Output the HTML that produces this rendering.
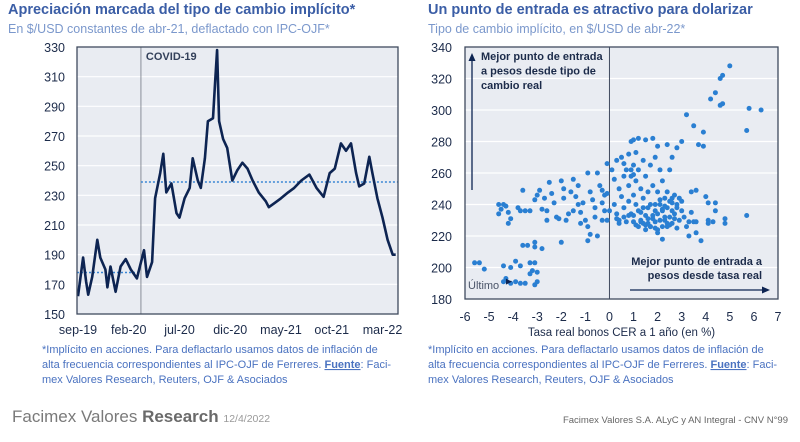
<!DOCTYPE html>
<html><head><meta charset="utf-8">
<style>
body{margin:0;background:#fff;}
svg{display:block;font-family:"Liberation Sans",sans-serif;}
.tick{font-size:12.5px;fill:#1c2b4a;}
.ft{font-size:11px;fill:#4a72c0;}
</style></head>
<body>
<svg id="root" width="800" height="442" viewBox="0 0 800 442">
<text x="8" y="14" font-size="14.5" font-weight="bold" fill="#3b5ea6">Apreciación marcada del tipo de cambio implícito*</text>
<text x="8" y="33" font-size="12.5" fill="#7b98cc">En $/USD constantes de abr-21, deflactado con IPC-OJF*</text>
<text x="428" y="14" font-size="14.5" font-weight="bold" fill="#3b5ea6">Un punto de entrada es atractivo para dolarizar</text>
<text x="428" y="33" font-size="12.5" fill="#7b98cc">Tipo de cambio implícito, en $/USD de abr-22*</text>

<g id="left"></g>
<g id="right"></g>

<g>
<text class="ft" x="42" y="353">*Implícito en acciones. Para deflactarlo usamos datos de inflación de</text>
<text class="ft" x="42" y="368">alta frecuencia correspondientes al IPC-OJF de Ferreres. <tspan font-weight="bold" text-decoration="underline">Fuente</tspan>: Faci-</text>
<text class="ft" x="42" y="383">mex Valores Research, Reuters, OJF &amp; Asociados</text>
</g>
<g>
<text class="ft" x="428" y="353">*Implícito en acciones. Para deflactarlo usamos datos de inflación de</text>
<text class="ft" x="428" y="368">alta frecuencia correspondientes al IPC-OJF de Ferreres. <tspan font-weight="bold" text-decoration="underline">Fuente</tspan>: Faci-</text>
<text class="ft" x="428" y="383">mex Valores Research, Reuters, OJF &amp; Asociados</text>
</g>
<text x="12" y="422" font-size="17" fill="#7a7a7a">Facimex Valores <tspan font-weight="bold" fill="#6a6a6a">Research</tspan> <tspan font-size="10.5" fill="#999">12/4/2022</tspan></text>
<text x="788" y="423" font-size="9.5" fill="#666" text-anchor="end">Facimex Valores S.A. ALyC y AN Integral - CNV N°99</text>
</svg>
<script>
// ---- Left chart data ----
const lineMonths = [0,0.5,0.8,1,1.4,1.9,2.2,2.7,2.9,3.2,3.7,4.2,4.7,5.2,5.8,6.5,6.8,7.3,7.6,8.1,8.4,8.7,9.2,9.7,10,10.5,11,11.3,11.8,12.1,12.5,12.8,13.3,13.5,13.7,13.9,14.3,14.7,15.2,15.7,16.2,16.7,17.2,17.8,18.5,18.8,19.4,20,20.7,21.3,22,22.8,23.5,24.2,24.8,25.3,25.9,26.4,26.9,27.4,27.7,28.2,28.7,29,29.5,30,30.5,31,31.3];
const lineValues = [162,188,172,163,175,200,188,180,168,182,165,182,187,180,174,193,175,185,228,245,258,232,238,218,215,228,235,255,240,235,255,280,282,305,328,280,268,262,240,247,252,248,240,232,226,222,225,228,232,235,240,244,235,229,245,248,265,260,265,245,236,238,256,245,228,215,200,190,190];
const xTickLabels = ["sep-19","feb-20","jul-20","dic-20","may-21","oct-21","mar-22"];
const xTickMonths = [0,5,10,15,20,25,30];
const yTicksLeft = [150,170,190,210,230,250,270,290,310,330];
const avgPre = 178, avgPost = 239, covidMonth = 6.2;

// ---- Right chart data ----
const scatterX = [-5.6,-5.4,-5.2,-4.4,-4.1,-3.9,-3.7,-3.3,-3.1,-3.2,-3,-4.3,-4.1,-3.9,-3.7,-3.5,-3.1,-3,-3.6,-3.4,-3.1,-3.1,-2.8,-4.4,-3.3,
-4.6,-4.5,-4.4,-4.3,-4.2,-4.1,-4.2,-4.6,-3.8,-3.6,-3.5,-3.3,-3.1,-3,-2.9,-2.8,-2.7,-2.6,-2.5,-2.4,-2.3,-2.2,-2.1,-2,-1.9,-1.9,-1.8,-1.7,-1.6,-1.5,-1.4,-1.3,-1.2,-1.2,-1.1,-1,-0.9,-0.9,-0.8,-0.7,-0.6,-0.6,-0.5,-0.4,-0.3,-0.3,-0.2,-0.1,-0.2,-0.5,-0.9,-0.8,-2,-3.7,-2.6,-1.5,-1.3,-0.3,-0.1,
0.1,0.2,0.2,0.3,0.3,0.4,0.4,0.5,0.5,0.6,0.6,0.7,0.7,0.8,0.8,0.8,0.9,0.9,0.9,1,1,1,1,1.1,1.1,1.1,1.2,1.2,1.2,1.2,1.3,1.3,1.4,1.4,1.4,1.5,1.5,1.5,1.5,1.6,1.6,1.7,1.7,1.7,1.8,1.8,1.8,1.9,1.9,1.9,2,2,2,2,2.1,2.1,2.1,2.2,2.2,2.2,2.3,2.3,2.4,2.4,2.4,2.4,2.5,2.5,2.5,2.6,2.6,2.6,2.7,2.7,2.8,2.8,2.8,2.9,2.9,3,3,3.1,3.2,3.2,3.3,3.4,3.5,3.5,3.6,3.6,3.7,3.8,3.9,3.9,4,4.1,4.1,4.2,4.3,4.4,4.4,4.6,4.6,4.7,4.7,4.8,4.8,5,4.4,5.7,5.7,5.8,6.3,
1.3,1.6,1.0,0.6,0.3,2.7,3.0,1.4,1.1,1.9,2.3,0.8,2.6,2.2,1.8,0.4,0.0,-0.1,1.5,1.7,2.0,2.2,2.4,2.5,1.3,1.6,1.9,2.1,2.3,2.6,2.8,3.3,3.6,3.4,4.1,0.9,0.6,1.0];
const scatterY = [203,203,199,201,200,204,201,203,203,198,197,193,190,191,190,190,189,191,214,214,216,213,212,191,196,
240,237,240,239,235,231,228,234,238,249,236,236,243,246,249,237,244,236,254,247,241,232,231,255,250,244,230,234,248,256,245,240,235,228,241,230,226,260,248,243,238,232,260,252,249,241,246,266,236,220,217,221,216,236,230,236,252,230,247,
262,256,240,234,268,250,228,270,245,258,238,262,229,272,252,242,280,258,234,281,265,246,229,273,255,240,282,262,236,226,250,230,268,244,228,281,258,233,224,248,228,265,240,226,282,252,231,270,236,225,277,248,234,222,262,240,230,255,236,218,244,232,278,248,238,226,262,242,232,270,236,228,246,234,276,240,225,244,230,280,242,232,226,297,220,248,290,229,249,222,278,217,286,277,245,241,230,307,229,311,236,303,320,322,304,231,228,328,241,287,233,301,300,
229,231,233,232,231,231,236,238,227,229,230,233,241,237,233,230,236,230,227,226,224,226,228,227,235,238,240,243,239,244,238,229,229,235,228,262,266,259];
const xTicksRight = [-6,-5,-4,-3,-2,-1,0,1,2,3,4,5,6,7];
const yTicksRight = [180,200,220,240,260,280,300,320,340];

const NS="http://www.w3.org/2000/svg";
function mk(parent,tag,attrs){const e=document.createElementNS(NS,tag);for(const k in attrs)e.setAttribute(k,attrs[k]);parent.appendChild(e);return e;}

// Left chart axes
const L={x0:77,x1:398,y0:47,y1:314};
const lx=m=>78+m*10.15;
const ly=v=>L.y1-(v-150)/180*(L.y1-L.y0);
const left=document.getElementById('left');
let r=mk(left,'rect',{x:L.x0,y:L.y0,width:L.x1-L.x0,height:L.y1-L.y0,fill:'#e9ecf2'});


yTicksLeft.forEach(v=>{
  const g=mk(left,'line',{x1:L.x0,x2:L.x1,y1:ly(v),y2:ly(v),stroke:'#fff','stroke-width':1.2});
  
  
  const t=mk(left,'text',{x:65,y:ly(v)+5,'text-anchor':'end',class:'tick','font-size':12});t.textContent=v;
  
  
});
xTickLabels.forEach((s,i)=>{
  const t=mk(left,'text',{x:lx(xTickMonths[i]),y:334,'text-anchor':'middle',class:'tick','font-size':12});t.textContent=s;
  
  
});
let cv=mk(left,'line',{x1:lx(covidMonth),x2:lx(covidMonth),y1:L.y0,y2:L.y1,stroke:'#8a8f99','stroke-width':1});


let ct=mk(left,'text',{x:lx(covidMonth)+5,y:60,'font-size':11,'font-weight':'bold',fill:'#33405a'});ct.textContent='COVID-19';


let a1=mk(left,'line',{x1:L.x0,x2:lx(covidMonth),y1:ly(avgPre),y2:ly(avgPre),stroke:'#3a86d4','stroke-width':1.5,'stroke-dasharray':'2,2'});


let a2=mk(left,'line',{x1:lx(covidMonth),x2:L.x1,y1:ly(avgPost),y2:ly(avgPost),stroke:'#3a86d4','stroke-width':1.5,'stroke-dasharray':'2,2'});


let p=mk(left,'path',{d:lineMonths.map((m,i)=>(i?'L':'M')+lx(m).toFixed(1)+','+ly(lineValues[i]).toFixed(1)).join(''),fill:'none',stroke:'#0d2452','stroke-width':2.6,'stroke-linejoin':'round'});


let b=mk(left,'rect',{x:L.x0,y:L.y0,width:L.x1-L.x0,height:L.y1-L.y0,fill:'none',stroke:'#3f4a5e','stroke-width':1.3});



// Right chart axes
const R={x0:465,x1:778,y0:47,y1:299};
const rx=v=>R.x0+(v+6)/13*(R.x1-R.x0);
const ry=v=>R.y1-(v-180)/160*(R.y1-R.y0);
const right=document.getElementById('right');
r=mk(right,'rect',{x:R.x0,y:R.y0,width:R.x1-R.x0,height:R.y1-R.y0,fill:'#e9ecf2'});


yTicksRight.forEach(v=>{
  const g=mk(right,'line',{x1:R.x0,x2:R.x1,y1:ry(v),y2:ry(v),stroke:'#fff','stroke-width':1.2});
  
  
  const t=mk(right,'text',{x:452,y:ry(v)+5,'text-anchor':'end',class:'tick'});t.textContent=v;
  
  
});
xTicksRight.forEach(v=>{
  const t=mk(right,'text',{x:rx(v),y:321,'text-anchor':'middle',class:'tick'});t.textContent=v;
  
  
});
let xt=mk(right,'text',{x:rx(0.5),y:336,'text-anchor':'middle','font-size':11.5,fill:'#1c2b4a'});xt.textContent='Tasa real bonos CER a 1 año (en %)';


let zl=mk(right,'line',{x1:rx(0),x2:rx(0),y1:R.y0,y2:R.y1,stroke:'#3f4a5e','stroke-width':1});


scatterX.forEach((v,i)=>{
  const c=mk(right,'circle',{cx:rx(v).toFixed(1),cy:ry(scatterY[i]).toFixed(1),r:2.5,fill:'#2a7fd2'});
  
  
});
let ua=mk(right,'path',{d:`M${rx(-4.05)},${ry(191)} l-6,-3 l0,6 z`,fill:'#0d2452'});


let ul=mk(right,'text',{x:468,y:289,'font-size':11,fill:'#4a5468'});ul.textContent='Último';


let va=mk(right,'line',{x1:472,x2:472,y1:190,y2:60,stroke:'#0d2452','stroke-width':1.3});


mk(right,'path',{d:'M468.5,61 L475.5,61 L472,53 z',fill:'#0d2452'});
const tl=['Mejor punto de entrada','a pesos desde tipo de','cambio real'];
tl.forEach((s,i)=>{const t=mk(right,'text',{x:481,y:60+i*14.5,'font-size':11,'font-weight':'bold',fill:'#1c2b4a'});t.textContent=s;

});
const tr=['Mejor punto de entrada a','pesos desde tasa real'];
tr.forEach((s,i)=>{const t=mk(right,'text',{x:762,y:265+i*14,'font-size':11,'font-weight':'bold',fill:'#1c2b4a','text-anchor':'end'});t.textContent=s;

});
let ha=mk(right,'line',{x1:630,x2:763,y1:290,y2:290,stroke:'#0d2452','stroke-width':1.3});


mk(right,'path',{d:'M762,286.5 L770,290 L762,293.5 z',fill:'#0d2452'});
b=mk(right,'rect',{x:R.x0,y:R.y0,width:R.x1-R.x0,height:R.y1-R.y0,fill:'none',stroke:'#3f4a5e','stroke-width':1.3});


</script>
</body></html>
